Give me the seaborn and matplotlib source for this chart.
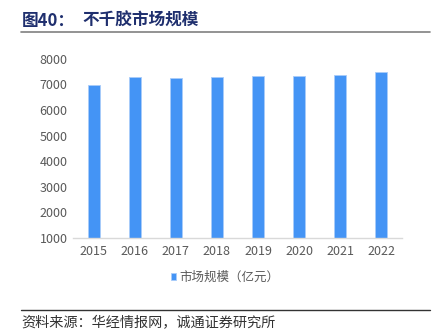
import matplotlib
matplotlib.use("Agg")
import matplotlib.pyplot as plt
import seaborn as sns
import pandas as pd

years = ["2015", "2016", "2017", "2018", "2019", "2020", "2021", "2022"]
market_size = [6990, 7290, 7240, 7280, 7340, 7340, 7380, 7490]
y_ticks = [1000, 2000, 3000, 4000, 5000, 6000, 7000, 8000]
series_name = "市场规模（亿元）"
title_num = "图40："
title_text = "不千胶市场规模"
source_text = "资料来源：华经情报网，诚通证券研究所"

sns.set_theme(style="white")
plt.rcParams["font.family"] = ["Noto Sans CJK SC", "DejaVu Sans"]

df = pd.DataFrame({"year": years, "value": market_size})

fig = plt.figure(figsize=(4.48, 3.31), dpi=100)
ax = fig.add_axes([0.163, 0.281, 0.734, 0.541])

bar_color = "#4494F5"
sns.barplot(data=df, x="year", y="value", color=bar_color, width=0.29,
            edgecolor="#A9CCF9", linewidth=0.6, saturation=1, ax=ax,
            label=series_name)

ax.set_ylim(1000, 8000)
ax.set_xlim(-0.5, 7.5)
ax.set_yticks(y_ticks)
ax.set_xlabel("")
ax.set_ylabel("")
for s in ["top", "right", "left"]:
    ax.spines[s].set_visible(False)
ax.spines["bottom"].set_color("#D9D9D9")
ax.spines["bottom"].set_linewidth(1.0)
ax.tick_params(axis="both", length=0, labelsize=9, colors="#595959", pad=4)
ax.tick_params(axis="x", pad=5)

leg = ax.legend(loc="center", bbox_to_anchor=(0.462, -0.222), frameon=False,
                fontsize=9, handlelength=0.45, handleheight=0.45, handletextpad=0.25,
                borderaxespad=0)
for t in leg.get_texts():
    t.set_color("#595959")

# title and rules
fig.text(0.049, 0.938, title_num, fontsize=12, fontweight="bold", color="#1F2F6E",
         va="center", ha="left")
fig.text(0.183, 0.938, title_text, fontsize=12, fontweight="bold", color="#1F2F6E",
         va="center", ha="left")
fig.add_artist(plt.Line2D([0.047, 0.96], [0.903, 0.903], color="#808080", lw=1.2,
                          transform=fig.transFigure))
fig.add_artist(plt.Line2D([0.047, 0.96], [0.064, 0.064], color="#333333", lw=1.0,
                          transform=fig.transFigure))
fig.text(0.047, 0.025, source_text, fontsize=10.2, color="#333333", va="center", ha="left")

fig.savefig("out.png", dpi=100)
